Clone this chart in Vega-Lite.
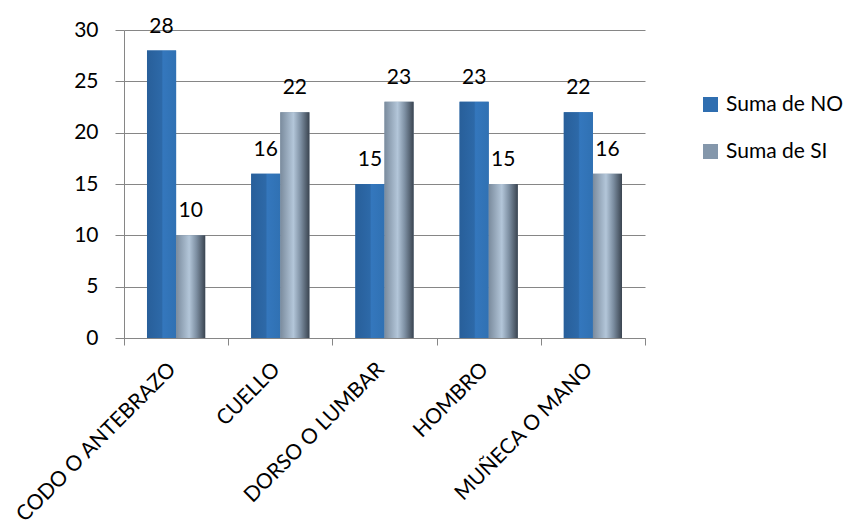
{
  "$schema": "https://vega.github.io/schema/vega-lite/v6.json",
  "autosize": "none",
  "width": 521,
  "height": 308,
  "padding": {"left": 124, "top": 30, "right": 215, "bottom": 193},
  "background": "white",
  "config": {
    "font": "Lato",
    "view": {"stroke": null},
    "axis": {"labelFont": "Lato", "labelFontSize": 21, "labelColor": "#000000", "domainColor": "#868686", "tickColor": "#868686", "gridColor": "#868686", "title": null, "labelLimit": 400},
    "legend": {"labelFont": "Lato", "labelFontSize": 21, "labelColor": "#000000", "labelLimit": 300}
  },
  "data": {
    "values": [
      {"category": "CODO O ANTEBRAZO", "serie": "Suma de NO", "value": 28},
      {"category": "CODO O ANTEBRAZO", "serie": "Suma de SI", "value": 10},
      {"category": "CUELLO", "serie": "Suma de NO", "value": 16},
      {"category": "CUELLO", "serie": "Suma de SI", "value": 22},
      {"category": "DORSO O LUMBAR", "serie": "Suma de NO", "value": 15},
      {"category": "DORSO O LUMBAR", "serie": "Suma de SI", "value": 23},
      {"category": "HOMBRO", "serie": "Suma de NO", "value": 23},
      {"category": "HOMBRO", "serie": "Suma de SI", "value": 15},
      {"category": "MUÑECA O MANO", "serie": "Suma de NO", "value": 22},
      {"category": "MUÑECA O MANO", "serie": "Suma de SI", "value": 16}
    ]
  },
  "encoding": {
    "x": {
      "field": "category", "type": "nominal", "sort": null,
      "scale": {"paddingInner": 0, "paddingOuter": 0},
      "axis": {"labelAngle": -45, "labelAlign": "right", "labelBaseline": "middle", "tickBand": "extent", "tickSize": 7, "labelPadding": 21, "labelOffset": -4, "grid": false}
    },
    "xOffset": {"field": "serie", "type": "nominal", "scale": {"paddingInner": 0, "paddingOuter": 0.79}},
    "y": {
      "field": "value", "type": "quantitative",
      "scale": {"domain": [0, 30], "nice": false},
      "axis": {"values": [0, 5, 10, 15, 20, 25, 30], "grid": true, "tickSize": 9, "labelPadding": 17}
    }
  },
  "layer": [
    {
      "mark": {"type": "bar"},
      "encoding": {
        "color": {
          "field": "serie", "type": "nominal",
          "scale": {"domain": ["Suma de NO", "Suma de SI"], "range": ["#2F6EB0", "#8497AB"]},
          "legend": {"title": null, "orient": "none", "legendX": 576, "legendY": 64, "symbolType": "square", "symbolSize": 225, "symbolStrokeWidth": 0, "rowPadding": 25, "labelOffset": 5}
        }
      }
    },
    {
      "transform": [{"filter": "datum.serie === 'Suma de NO'"}],
      "mark": {"type": "bar", "fill": {"gradient": "linear", "x1": 0, "y1": 0, "x2": 1, "y2": 0, "stops": [{"offset": 0, "color": "#285f9a"}, {"offset": 0.5, "color": "#2d69a8"}, {"offset": 0.55, "color": "#3477bd"}, {"offset": 1, "color": "#3071b3"}]}}
    },
    {
      "transform": [{"filter": "datum.serie === 'Suma de SI'"}],
      "mark": {"type": "bar", "fill": {"gradient": "linear", "x1": 0, "y1": 0, "x2": 1, "y2": 0, "stops": [{"offset": 0, "color": "#7a8b9d"}, {"offset": 0.45, "color": "#b3c6d9"}, {"offset": 0.7, "color": "#7d8fa2"}, {"offset": 1, "color": "#3a4450"}]}}
    },
    {
      "mark": {"type": "text", "fontSize": 21, "font": "Lato", "color": "#000000", "baseline": "alphabetic", "dy": -18},
      "encoding": {"text": {"field": "value", "type": "quantitative"}}
    }
  ]
}
